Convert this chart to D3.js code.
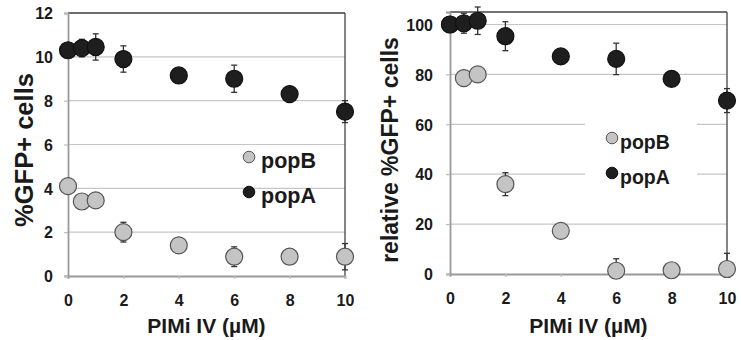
<!DOCTYPE html>
<html><head><meta charset="utf-8">
<script src="https://cdn.jsdelivr.net/npm/d3@7"></script>
<style>
html,body{margin:0;padding:0;background:#fff;}
svg{display:block;font-family:"Liberation Sans",Arial,sans-serif;font-weight:bold;}
</style></head>
<body>
<svg id="c" width="741" height="340"></svg>
<script>
// ---- data ----
const doses = [0, 0.5, 1, 2, 4, 6, 8, 10];
const xTicks = [0, 2, 4, 6, 8, 10];
const leftYTicks = [0, 2, 4, 6, 8, 10, 12];
const rightYTicks = [0, 20, 40, 60, 80, 100];
const seriesNames = ["popB", "popA"];

const leftPopA    = [10.3, 10.4, 10.45, 9.9, 9.15, 9.0, 8.3, 7.5];
const leftPopAErr = [0.2, 0.4, 0.6, 0.6, 0.2, 0.62, 0.2, 0.5];
const leftPopB    = [4.1, 3.4, 3.45, 2.0, 1.4, 0.88, 0.88, 0.88];
const leftPopBErr = [0.2, 0.2, 0.2, 0.45, 0.2, 0.45, 0.2, 0.6];

const rightPopA    = [100, 100.5, 101.5, 95.3, 87.2, 86.2, 78.2, 69.5];
const rightPopAErr = [1.5, 4, 5.5, 5.8, 1.5, 6.3, 1, 4.8];
const rightPopB    = [100, 78.5, 80, 36, 17.3, 1.3, 1.5, 2];
const rightPopBErr = [1, 1, 1, 4.6, 1, 4.8, 1, 6.3];

const colors = {popB: "#c4c4c4", popA: "#1e1e1e"};
const strokes = {popB: "#555", popA: "#111"};

const svg = d3.select("#c");

function panel(cfg) {
  const x = d3.scaleLinear().domain([0, 10]).range([cfg.x0, cfg.x1]);
  const y = d3.scaleLinear().domain([0, cfg.ymax]).range([cfg.y0, cfg.y1]);
  const g = svg.append("g");

  // gridlines
  g.selectAll("line.grid").data(cfg.yTicks.filter(t => t > 0)).join("line")
    .attr("x1", cfg.x0).attr("x2", cfg.x1)
    .attr("y1", d => y(d)).attr("y2", d => y(d))
    .attr("stroke", "#c6c6c6").attr("stroke-width", 1.2);

  // legend background (right panel)
  if (cfg.legendBg) {
    g.append("rect").attr("x", cfg.legendBg[0]).attr("y", cfg.legendBg[1])
      .attr("width", cfg.legendBg[2]).attr("height", cfg.legendBg[3]).attr("fill", "#fff");
  }

  // top and right border
  g.append("line").attr("x1", cfg.x0).attr("x2", cfg.x1).attr("y1", cfg.y1).attr("y2", cfg.y1)
    .attr("stroke", "#444").attr("stroke-width", 1.3);
  g.append("line").attr("x1", cfg.x1).attr("x2", cfg.x1).attr("y1", cfg.y1).attr("y2", cfg.y0)
    .attr("stroke", "#444").attr("stroke-width", 1.3);

  // axes
  const xa = g.append("g").attr("transform", `translate(0,${cfg.y0})`)
    .call(d3.axisBottom(x).tickValues(xTicks).tickSize(3).tickPadding(16).tickFormat(d3.format("d")));
  const ya = g.append("g").attr("transform", `translate(${cfg.x0},0)`)
    .call(d3.axisLeft(y).tickValues(cfg.yTicks).tickSize(4).tickPadding(cfg.yPad).tickFormat(d3.format("d")));
  [xa, ya].forEach(a => {
    a.select(".domain").attr("stroke", "#999").attr("stroke-width", 1.8);
    a.selectAll(".tick line").attr("stroke", "#bbb").attr("stroke-width", 1.2);
    a.selectAll("text").attr("font-size", 16).attr("font-weight", "bold")
      .attr("font-family", '"Liberation Sans",Arial,sans-serif').attr("fill", "#1a1a1a");
  });
  ya.selectAll("text").attr("dy", "0.36em");

  // series
  const series = [
    {name: "popB", vals: cfg.b, err: cfg.bErr},
    {name: "popA", vals: cfg.a, err: cfg.aErr}
  ];
  series.forEach(s => {
    const pts = doses.map((d, i) => ({x: d, v: s.vals[i], e: s.err[i]}));
    const eg = g.append("g");
    pts.forEach(p => {
      const lo = Math.max(0, p.v - p.e), hi = p.v + p.e;
      eg.append("line").attr("x1", x(p.x)).attr("x2", x(p.x)).attr("y1", y(lo)).attr("y2", y(hi))
        .attr("stroke", "#333").attr("stroke-width", 1.3);
      [lo, hi].forEach(v => eg.append("line").attr("x1", x(p.x) - 3).attr("x2", x(p.x) + 3)
        .attr("y1", y(v)).attr("y2", y(v)).attr("stroke", "#333").attr("stroke-width", 1.3));
    });
    g.append("g").selectAll("circle").data(pts).join("circle")
      .attr("cx", d => x(d.x)).attr("cy", d => y(d.v)).attr("r", 8.5)
      .attr("fill", colors[s.name]).attr("stroke", strokes[s.name]).attr("stroke-width", 1.2);
  });

  // legend
  seriesNames.forEach((n, i) => {
    const ly = cfg.legend[1] + i * cfg.legendGap;
    g.append("circle").attr("cx", cfg.legend[0]).attr("cy", ly).attr("r", 5.8)
      .attr("fill", colors[n]).attr("stroke", strokes[n]).attr("stroke-width", 1);
    g.append("text").attr("x", cfg.legend[0] + cfg.legendDx).attr("y", ly + 10.5).text(n)
      .attr("font-size", cfg.legendFont).attr("fill", "#1a1a1a");
  });

  // titles
  g.append("text").attr("x", (cfg.x0 + cfg.x1) / 2).attr("y", 333).attr("text-anchor", "middle")
    .attr("font-size", 21).attr("fill", "#1a1a1a").text("PIMi IV (µM)");
  g.append("text").attr("transform", `translate(${cfg.ytx},${cfg.yty}) rotate(-90)`)
    .attr("text-anchor", "middle").attr("font-size", cfg.ytFont).attr("fill", "#1a1a1a").text(cfg.ytitle);
}

panel({x0: 68, x1: 345, y0: 276, y1: 13, ymax: 12, yTicks: leftYTicks, yPad: 11,
  a: leftPopA, aErr: leftPopAErr, b: leftPopB, bErr: leftPopBErr,
  legend: [249, 157], legendGap: 35, legendDx: 12, legendFont: 21.5,
  ytx: 33, yty: 150, ytFont: 25.5, ytitle: "%GFP+ cells"});

panel({x0: 450, x1: 727, y0: 274, y1: 12, ymax: 105, yTicks: rightYTicks, yPad: 13,
  a: rightPopA, aErr: rightPopAErr, b: rightPopB, bErr: rightPopBErr,
  legendBg: [585, 118, 112, 68],
  legend: [612, 138], legendGap: 35, legendDx: 8, legendFont: 19.5,
  ytx: 398, yty: 150, ytFont: 23, ytitle: "relative %GFP+ cells"});
</script>
</body></html>
